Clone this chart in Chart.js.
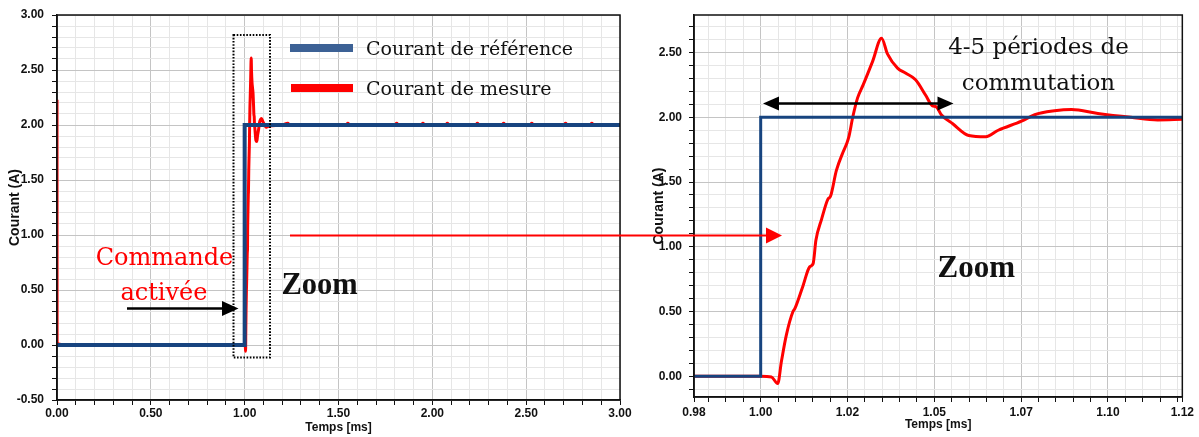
<!DOCTYPE html>
<html>
<head>
<meta charset="utf-8">
<script src="https://cdn.jsdelivr.net/npm/chart.js@4.4.1/dist/chart.umd.min.js"></script>
<style>
  body { margin: 0; background: #fff; width: 1199px; height: 437px; overflow: hidden; position: relative; }
  canvas { position: absolute; top: 0; }
  #full { left: 0; }
  #zoom { left: 640px; }
  #notes { position: absolute; left: 0; top: 0; pointer-events: none; }
</style>
</head>
<body>
<canvas id="full" width="640" height="437"></canvas>
<canvas id="zoom" width="559" height="437"></canvas>
<svg id="notes" width="1199" height="437" xmlns="http://www.w3.org/2000/svg"></svg>
<script>
// Series names
const seriesLabels = ['Courant de référence', 'Courant de mesure'];

// Reference current (step at 1 ms)
const refTime = [0, 1.0, 1.0, 3.0];
const refCurrent = [0, 0, 2.0, 2.0];

const mesTime = [0, 0.0005, 0.01, 0.03, 1.0, 1.0031, 1.0049, 1.006, 1.0074, 1.0093, 1.0098,
  1.0122, 1.0141, 1.0151, 1.0159, 1.0175, 1.0194, 1.0201, 1.0218, 1.0237, 1.0248, 1.0254,
  1.0265, 1.0279, 1.0295, 1.0322, 1.0348, 1.0365, 1.0394, 1.0418, 1.0446, 1.0475, 1.0494,
  1.0506, 1.052, 1.0553, 1.0599, 1.0648, 1.0684, 1.0751, 1.0789, 1.0846, 1.0895, 1.0971,
  1.1066, 1.1143, 1.1214, 1.13, 1.2, 1.23, 1.24, 1.54, 1.55, 1.56, 1.8, 1.81, 1.82, 1.94,
  1.95, 1.96, 2.07, 2.08, 2.09, 2.23, 2.24, 2.25, 2.37, 2.38, 2.39, 2.52, 2.53, 2.54, 2.7,
  2.71, 2.72, 2.84, 2.85, 2.86, 3.0];
const mesCurrent = [2.23, 0.0, 0.01, 0.0, 0.0, -0.005, -0.056, 0.12, 0.32, 0.5, 0.52,
  0.7, 0.845, 0.87, 1.05, 1.21, 1.37, 1.39, 1.59, 1.73, 1.8, 1.85,
  2.0, 2.15, 2.25, 2.43, 2.61, 2.49, 2.38, 2.34, 2.29, 2.17, 2.09,
  2.08, 2.02, 1.95, 1.86, 1.85, 1.9, 1.97, 2.02, 2.05, 2.06, 2.03,
  2.0, 1.98, 1.985, 1.99, 2.0, 2.015, 2.0, 2.0, 2.015, 2.0, 2.0, 2.015, 2.0, 2.0,
  2.015, 2.0, 2.0, 2.015, 2.0, 2.0, 2.015, 2.0, 2.0, 2.015, 2.0, 2.0, 2.015, 2.0, 2.0,
  2.015, 2.0, 2.0, 2.015, 2.0, 2.0];

// Tick values and labels
const fullXTicks = [0, 0.5, 1.0, 1.5, 2.0, 2.5, 3.0];
const fullXLabels = ['0.00', '0.50', '1.00', '1.50', '2.00', '2.50', '3.00'];
const fullYTicks = [-0.5, 0, 0.5, 1.0, 1.5, 2.0, 2.5, 3.0];
const fullYLabels = ['-0.50', '0.00', '0.50', '1.00', '1.50', '2.00', '2.50', '3.00'];
const zoomXTicks = [0.9808, 1.0, 1.025, 1.05, 1.075, 1.10, 1.1214];
const zoomXLabels = ['0.98', '1.00', '1.02', '1.05', '1.07', '1.10', '1.12'];
const zoomYTicks = [0, 0.5, 1.0, 1.5, 2.0, 2.5];
const zoomYLabels = ['0.00', '0.50', '1.00', '1.50', '2.00', '2.50'];

const BLUE = '#17447f';
const RED = '#ff0000';
const tickFont = { family: "'Liberation Sans', Arial, sans-serif", size: 12, weight: 'bold', lineHeight: 1 };
const titleFont = { family: "'Liberation Sans', Arial, sans-serif", size: 14, weight: 'bold', lineHeight: 1 };

function steps(from, to, step) {
  const out = [];
  for (let v = from; v <= to + 1e-9; v += step) out.push(Math.round(v * 10000) / 10000);
  return out;
}

function makeAxis(min, max, majors, labels, minorStep, extra) {
  const isMajor = v => majors.some(m => Math.abs(m - v) < 1e-6);
  const all = Array.from(new Set(majors.concat(steps(Math.ceil(min / minorStep) * minorStep, max, minorStep))))
    .filter(v => v >= min - 1e-9 && v <= max + 1e-9).sort((a, b) => a - b);
  return Object.assign({
    type: 'linear',
    min: min,
    max: max,
    afterBuildTicks: s => { s.ticks = all.map(v => ({ value: v })); },
    ticks: {
      autoSkip: false,
      maxRotation: 0,
      color: '#111',
      font: tickFont,
      callback: v => {
        const i = majors.findIndex(m => Math.abs(m - v) < 1e-6);
        return i >= 0 ? labels[i] : '';
      }
    },
    grid: {
      color: c => (c.tick && isMajor(c.tick.value)) ? '#c4c4c4' : '#e6e6e6',
      lineWidth: 1,
      tickColor: '#111',
      tickLength: 5
    },
    border: { display: true, color: '#111', width: 1.5 }
  }, extra);
}

const frame = {
  id: 'frame',
  afterDraw(chart) {
    const { ctx, chartArea: a } = chart;
    ctx.save();
    ctx.strokeStyle = '#111';
    ctx.lineWidth = 1.5;
    ctx.strokeRect(a.left, a.top, a.right - a.left, a.bottom - a.top);
    ctx.restore();
  }
};

function datasets(blueWidth, redWidth) {
  return [
    { label: seriesLabels[0], data: refTime.map((t, i) => ({ x: t, y: refCurrent[i] })), borderColor: BLUE, borderWidth: blueWidth, pointRadius: 0, tension: 0 },
    { label: seriesLabels[1], data: mesTime.map((t, i) => ({ x: t, y: mesCurrent[i] })), borderColor: RED, borderWidth: redWidth, pointRadius: 0, cubicInterpolationMode: 'monotone' }
  ];
}

function buildChart(id, cfg) {
  return new Chart(document.getElementById(id).getContext('2d'), {
    type: 'line',
    data: { datasets: datasets(cfg.blueWidth, cfg.redWidth) },
    options: {
      responsive: false,
      animation: false,
      devicePixelRatio: 1,
      layout: { padding: cfg.padding },
      plugins: { legend: { display: false }, tooltip: { enabled: false } },
      scales: {
        x: makeAxis(cfg.xMin, cfg.xMax, cfg.xTicks, cfg.xLabels, cfg.xMinor, {
          position: 'bottom',
          afterFit: s => { s.height = cfg.xHeight; },
          title: { display: true, text: 'Temps [ms]', color: '#111', font: tickFont, padding: { top: 0, bottom: cfg.xTitlePad } }
        }),
        y: makeAxis(cfg.yMin, cfg.yMax, cfg.yTicks, cfg.yLabels, 0.1, {
          position: 'left',
          afterFit: s => { s.width = cfg.yWidth; },
          title: { display: true, text: 'Courant (A)', color: '#111', font: titleFont, padding: { top: cfg.yTitlePad, bottom: 0 } }
        })
      }
    },
    plugins: [frame]
  });
}

const fullChart = buildChart('full', {
  blueWidth: 4, redWidth: 3,
  padding: { left: 0, top: 15, right: 20, bottom: 0 },
  xMin: 0, xMax: 3, xTicks: fullXTicks, xLabels: fullXLabels, xMinor: 0.1,
  yMin: -0.5, yMax: 3, yTicks: fullYTicks, yLabels: fullYLabels,
  xHeight: 37, yWidth: 57, xTitlePad: 3, yTitlePad: 8
});
fullChart.options.scales.y.ticks.padding = 8;
fullChart.options.scales.x.ticks.padding = 3;
fullChart.update();

const zoomChart = buildChart('zoom', {
  blueWidth: 3, redWidth: 3,
  padding: { left: 0, top: 15, right: 14, bottom: 0 },
  xMin: 0.9808, xMax: 1.1214, xTicks: zoomXTicks, xLabels: zoomXLabels, xMinor: 0.005,
  yMin: -0.16, yMax: 2.79, yTicks: zoomYTicks, yLabels: zoomYLabels,
  xHeight: 40, yWidth: 54, xTitlePad: 6, yTitlePad: 12
});
zoomChart.options.scales.y.ticks.padding = 7;
zoomChart.options.scales.x.ticks.padding = 5;
zoomChart.update();

// Annotations (legend, arrows, texts)
const NS = 'http://www.w3.org/2000/svg';
const svg = document.getElementById('notes');
function add(tag, attrs, text) {
  const el = document.createElementNS(NS, tag);
  for (const k in attrs) el.setAttribute(k, attrs[k]);
  if (text) el.textContent = text;
  svg.appendChild(el);
  return el;
}
const serif = "'DejaVu Serif', serif";
const timesBold = "'Liberation Serif', 'Times New Roman', serif";

// legend
add('rect', { x: 290, y: 44, width: 63, height: 8, fill: '#3c6195' });
add('rect', { x: 291, y: 84, width: 62, height: 8, fill: RED });
add('text', { x: 366, y: 55, 'font-family': serif, 'font-size': 19, fill: '#111' }, seriesLabels[0]);
add('text', { x: 366, y: 95, 'font-family': serif, 'font-size': 19, fill: '#111' }, seriesLabels[1]);

// dotted zoom box
add('rect', { x: 233.5, y: 35, width: 36.5, height: 322.5, fill: 'none', stroke: '#000', 'stroke-width': 2, 'stroke-dasharray': '1.6 1.6' });

// "Commande activée" arrow
add('line', { x1: 127, y1: 308.5, x2: 224, y2: 308.5, stroke: '#000', 'stroke-width': 2.5 });
add('polygon', { points: '222,301 238.5,308.5 222,316', fill: '#000' });
add('text', { x: 164.5, y: 265, 'text-anchor': 'middle', 'font-family': serif, 'font-size': 24, fill: RED }, 'Commande');
add('text', { x: 164, y: 300, 'text-anchor': 'middle', 'font-family': serif, 'font-size': 24, fill: RED }, 'activée');

// red arrow between plots
add('line', { x1: 290, y1: 235.5, x2: 768, y2: 235.5, stroke: RED, 'stroke-width': 2 });
add('polygon', { points: '766,227.5 782,235.5 766,243.5', fill: RED });

// double arrow
add('line', { x1: 775, y1: 103.5, x2: 942, y2: 103.5, stroke: '#000', 'stroke-width': 2.5 });
add('polygon', { points: '763,103.5 779,96.5 779,110.5', fill: '#000' });
add('polygon', { points: '953.5,103.5 937.5,96.5 937.5,110.5', fill: '#000' });

// texts
add('text', { x: 281.5, y: 293.5, 'font-family': timesBold, 'font-weight': 'bold', 'font-size': 30.5, fill: '#111' }, 'Zoom');
add('text', { x: 937.5, y: 277, 'font-family': timesBold, 'font-weight': 'bold', 'font-size': 31, fill: '#111' }, 'Zoom');
add('text', { x: 1038.5, y: 53.5, 'text-anchor': 'middle', 'font-family': serif, 'font-size': 23, fill: '#111' }, '4-5 périodes de');
add('text', { x: 1038.5, y: 89.5, 'text-anchor': 'middle', 'font-family': serif, 'font-size': 23, fill: '#111' }, 'commutation');
</script>
</body>
</html>
